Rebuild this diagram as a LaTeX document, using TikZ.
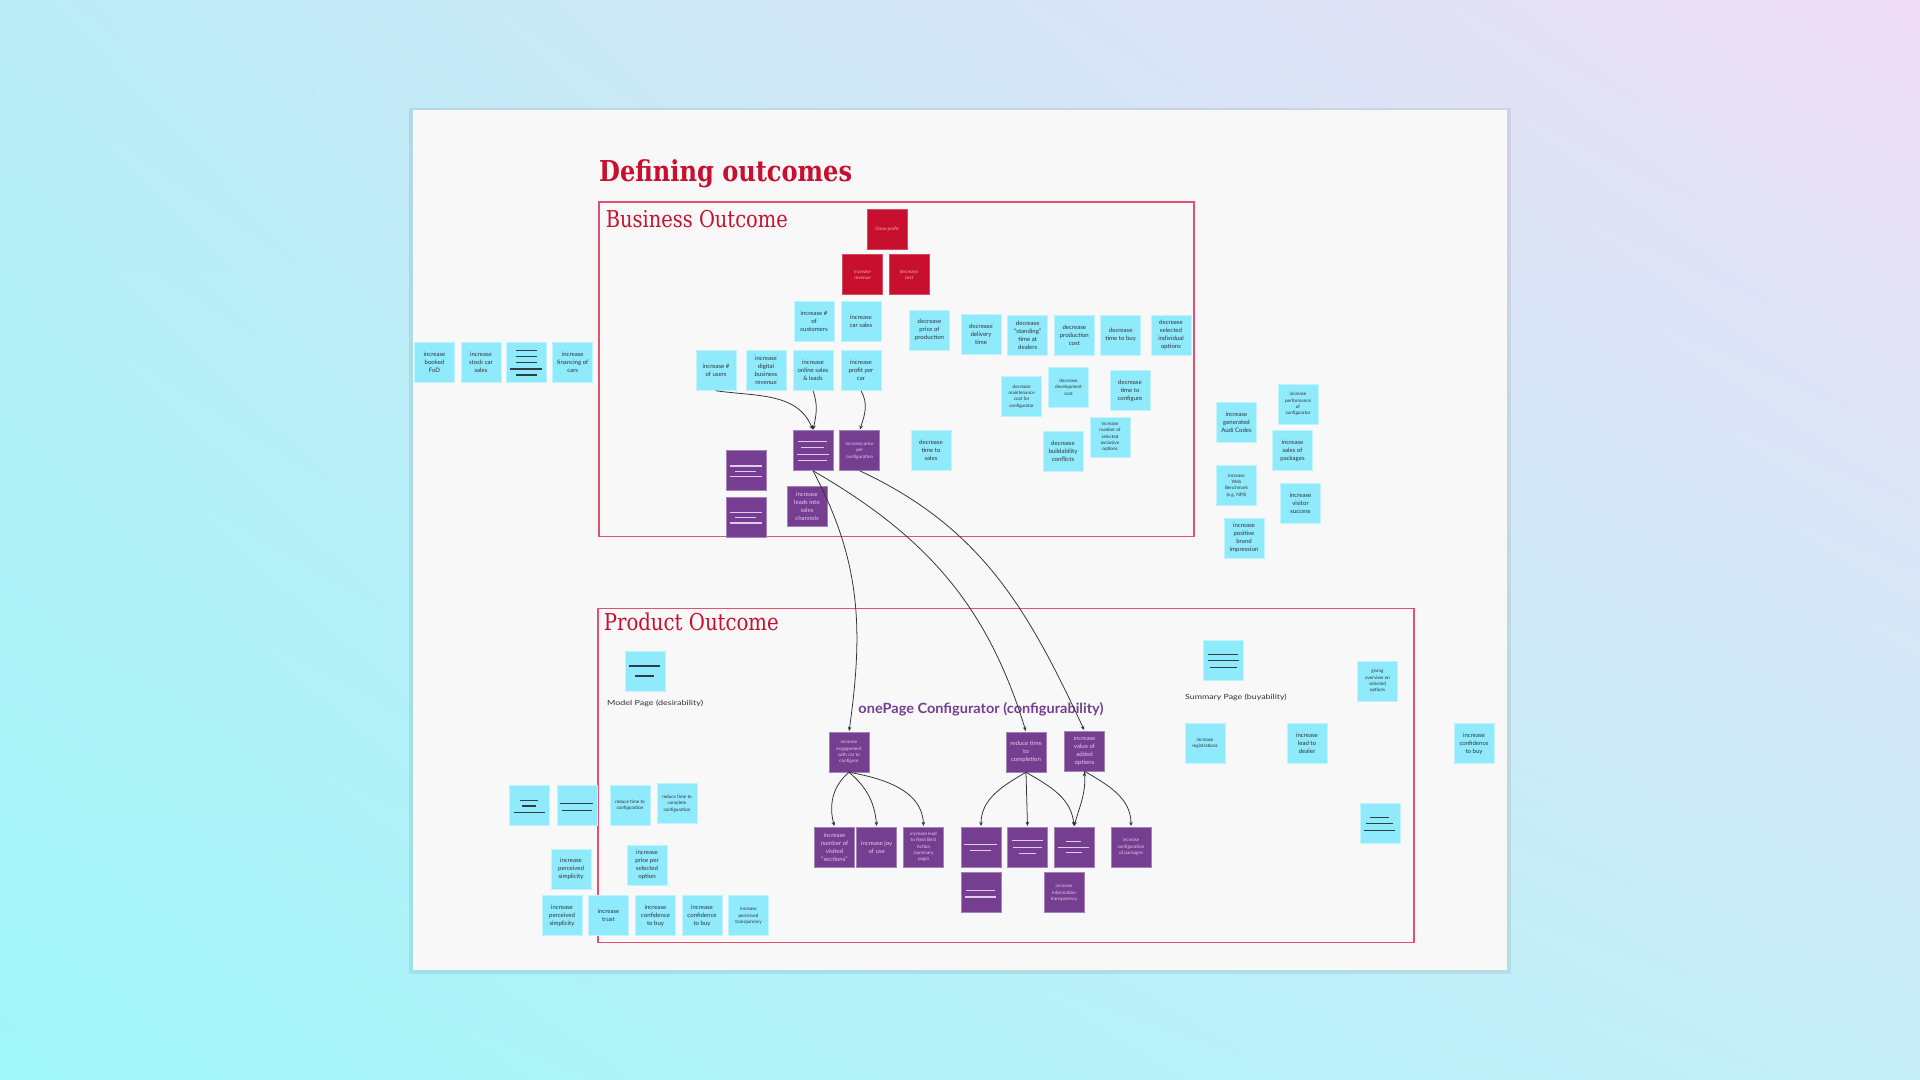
\documentclass[tikz,border=0pt]{standalone}
\usepackage{fontspec}
\setmainfont{Lato}
\newfontfamily\slabfont{DejaVu Serif}
\usetikzlibrary{arrows.meta,positioning,shadings}

\definecolor{sky}{RGB}{143,234,252}
\definecolor{plum}{RGB}{117,62,145}
\definecolor{crimson}{RGB}{200,16,46}
\definecolor{frame}{RGB}{226,82,112}
\definecolor{paper}{RGB}{248,248,248}
\definecolor{ink}{RGB}{50,50,55}
\definecolor{slate}{RGB}{45,62,72}
\definecolor{lilac}{RGB}{226,202,236}
\definecolor{rose}{RGB}{244,172,188}
\definecolor{bgUL}{RGB}{186,236,246}
\definecolor{bgUR}{RGB}{240,222,246}
\definecolor{bgLL}{RGB}{160,246,248}
\definecolor{bgLR}{RGB}{198,238,248}

\newcommand{\notefont}{\fontsize{8.6}{11.3}\selectfont}
\newcommand{\smallnote}{\fontsize{6.6}{9}\selectfont}
\newcommand{\fitw}[2]{\resizebox{#1}{\height}{#2}}
\newcommand{\stripes}[3]{%
  \foreach \w/\dy in {#3}
    \draw[barline,#2] ([shift={(-\w/2,\dy)}]#1.center) -- ++(\w,0);}

\begin{document}
\begin{tikzpicture}[
                x=0.05cm, y=-0.05cm,
                shorten >=1pt,
                >={Stealth[length=6pt,width=5pt]},
                node distance=2.35cm,
                on grid,
                note/.style={minimum width=2cm,minimum height=2cm,inner sep=0pt,
                  align=center,font=\notefont,line width=0.8pt},
                cnote/.style={note,fill=sky,draw=sky!55!white,text=ink},
                pnote/.style={note,fill=plum,draw=plum!65!white,text=lilac},
                rnote/.style={note,fill=crimson,draw=crimson!75!white,text=rose},
                smalltext/.style={font=\smallnote},
                link/.style={->,draw=black!80,line width=1.1pt},
                barline/.style={line width=1.8pt}]
            \useasboundingbox (0,0) rectangle (1920,1080);
            \shade[upper left=bgUL,upper right=bgUR,lower left=bgLL,lower right=bgLR]
              (0,0) rectangle (1920,1080);
            \fill[black,opacity=0.07] (409,108) rectangle (1511,974);
            \fill[paper] (413,110) rectangle (1507,970);

            % titles and frames
            \node[anchor=base west,inner sep=0pt,text=crimson] (title) at (599,181)
              {\fitw{12.65cm}{\fontsize{41}{41}\slabfont\bfseries Defining outcomes}};
            \draw[frame,line width=1.6pt] (599,202) rectangle (1194,536.5);
            \draw[frame,line width=1.6pt] (598,608.5) rectangle (1414,942.5);
            \node[anchor=base west,inner sep=0pt,text=crimson] (business) at (605.7,227.3)
              {\fitw{9.1cm}{\fontsize{33}{33}\slabfont Business Outcome}};
            \node[anchor=base west,inner sep=0pt,text=crimson] (product) at (603.7,630.5)
              {\fitw{8.75cm}{\fontsize{33}{33}\slabfont Product Outcome}};

            % business outcome
            \node[rnote,smalltext] (grow_profit) at (887,229) {Grow profit};
            \node[rnote,smalltext] (inc_revenue) at (862.5,274.5) {increase\\revenue};
            \node[rnote,smalltext] (dec_cost) [right=2.325cm of inc_revenue] {decrease\\cost};

            \node[cnote] (inc_customers) at (814,321) {increase \#\\of\\customers};
            \node[cnote] (inc_car_sales) [right=of inc_customers] {increase\\car sales};
            \node[cnote] (dec_price_prod) at (929.5,330) {decrease\\price of\\production};
            \node[cnote] (dec_delivery) at (981,334) {decrease\\delivery\\time};
            \node[cnote] (dec_standing) at (1027.7,335) {decrease\\``standing''\\time at\\dealers};
            \node[cnote] (dec_prod_cost) at (1074.3,335) {decrease\\production\\cost};
            \node[cnote] (dec_time_buy) at (1120.7,335) {decrease\\time to buy};
            \node[cnote] (dec_sel_options) at (1171,335) {decrease\\selected\\individual\\options};
            \node[cnote] (inc_users) at (716,370.5) {increase \#\\of users};
            \node[cnote] (inc_digital) at (766,370.5) {increase\\digital\\business\\revenue};
            \node[cnote] (inc_online) at (813,370.5) {increase\\online sales\\\& leads};
            \node[cnote] (inc_profit_car) at (861,370.5) {increase\\profit per\\car};
            \node[cnote,smalltext] (dec_maintenance) at (1021.7,396.5) {decrease\\maintenance\\cost for\\configurator};
            \node[cnote,smalltext] (dec_development) at (1068.5,387) {decrease\\development\\cost};
            \node[cnote] (dec_time_conf) at (1130,390.5) {decrease\\time to\\configure};
            \node[cnote] (dec_buildability) at (1063,451.5) {decrease\\buildability\\conflicts};
            \node[cnote,smalltext] (inc_exclusive) at (1110,437) {increase\\number of\\selected\\exclusive\\options};
            \node[cnote] (dec_time_sales) at (931,450.5) {decrease\\time to\\sales};

            \node[pnote] (hub) at (813,450.5) {};
            \node[pnote,smalltext] (inc_price_conf) at (859.7,450.5) {increase price\\per\\configuration};
            \node[pnote] (inc_leads) at (807,506) {increase\\leads into\\sales\\channels};
            \node[pnote] (plum_a) at (746,470.7) {};
            \node[pnote] (plum_b) at (746,517) {};

            \node[cnote] (inc_fod) at (434.5,362) {increase\\booked\\FoD};
            \node[cnote] (inc_stock) at (481,362) {increase\\stock car\\sales};
            \node[cnote] (stock_lines) at (526.5,362) {};
            \node[cnote] (inc_financing) at (572.7,362) {increase\\financing of\\cars};

            \node[cnote,smalltext] (inc_performance) at (1298,404) {increase\\performance\\of\\configurator};
            \node[cnote] (inc_audi_codes) at (1236.5,422) {increase\\generated\\Audi Codes};
            \node[cnote] (inc_packages) at (1292.5,450.5) {increase\\sales of\\packages};
            \node[cnote,smalltext] (inc_benchmark) at (1236.5,485.5) {increase\\Web\\Benchmark\\(e.g. NPS)};
            \node[cnote] (inc_visitor) at (1300.5,503.5) {increase\\visitor\\success};
            \node[cnote] (inc_brand) at (1244,538) {increase\\positive\\brand\\impression};

            % product outcome
            \node[cnote] (model_page) at (645,671) {};
            \node[anchor=base west,inner sep=0pt,text=ink] (model_label) at (607,705.5)
              {\fitw{4.8cm}{\fontsize{10}{12}\selectfont Model Page (desirability)}};
            \node[cnote] (summary_page) at (1223.7,660) {};
            \node[anchor=base west,inner sep=0pt,text=ink] (summary_label) at (1185,699)
              {\fitw{5.08cm}{\fontsize{10}{12}\selectfont Summary Page (buyability)}};
            \node[anchor=base west,inner sep=0pt,text=plum] (configurator) at (858.3,713.5)
              {\fitw{12.25cm}{\fontsize{20}{20}\selectfont\bfseries onePage Configurator (configurability)}};

            \node[cnote,smalltext] (giving_overview) at (1377.5,681) {giving\\overview on\\selected\\options};
            \node[cnote,smalltext] (inc_registrations) at (1205,743.5) {increase\\registrations};
            \node[cnote] (inc_lead_dealer) at (1307,743.5) {increase\\lead to\\dealer};
            \node[cnote] (inc_confidence_out) at (1474,743.5) {increase\\confidence\\to buy};
            \node[cnote] (summary_lines) at (1380,823) {};

            \node[cnote] (left_lines_a) at (529.7,805.5) {};
            \node[cnote] (left_lines_b) at (577,805.5) {};
            \node[cnote,smalltext] (red_time_conf) at (630,805.5) {reduce time to\\configuration};
            \node[cnote,smalltext] (red_time_complete) at (677,803.7) {reduce time to\\complete\\configuration};
            \node[cnote] (inc_simplicity_a) at (571,869) {increase\\perceived\\simplicity};
            \node[cnote] (inc_price_option) at (647,865) {increase\\price per\\selected\\option};
            \node[cnote] (inc_simplicity_b) at (562,915.7) {increase\\perceived\\simplicity};
            \node[cnote] (inc_trust) at (608.5,915.7) {increase\\trust};
            \node[cnote] (inc_confidence_a) at (655.5,915.7) {increase\\confidence\\to buy};
            \node[cnote] (inc_confidence_b) at (702,915.7) {increase\\confidence\\to buy};
            \node[cnote,smalltext] (inc_transparency) at (748.5,915.7) {increase\\perceived\\transparency};

            \node[pnote,smalltext] (inc_engagement) at (849,752) {increase\\engagement\\with car to\\configure};
            \node[pnote] (red_time_completion) at (1026,752) {reduce time\\to\\completion};
            \node[pnote] (inc_value_options) at (1084.5,751) {increase\\value of\\added\\options};
            \node[pnote] (inc_visited) at (834.5,847) {increase\\number of\\visited\\``sections''};
            \node[pnote] (inc_joy) at (876.7,847) {increase joy\\of use};
            \node[pnote,smalltext] (inc_nba) at (923.5,847) {increase lead\\to Next Best\\Action\\(summary\\page)};
            \node[pnote] (plum_p1) at (981,847) {};
            \node[pnote] (plum_p2) at (1027.5,847) {};
            \node[pnote] (plum_p3) at (1074,847) {};
            \node[pnote,smalltext] (inc_conf_packages) at (1131,847) {increase\\configuration\\of packages};
            \node[pnote] (plum_p4) at (981,892.7) {};
            \node[pnote,smalltext] (inc_info_transparency) at (1064,892.7) {increase\\information\\transparency};

            % stripes on the blank notes
            \stripes{stock_lines}{slate}{22/-11.3,22/-5.7,22/0.7,33/7,22/13}
            \stripes{plum_a}{lilac}{33/-4.7,22/0.7,33/6}
            \stripes{plum_b}{lilac}{33/-4.7,22/0.7,33/6}
            \stripes{hub}{lilac}{30/-8.8,24/-2.8,33/3.8,30/9.8}
            \stripes{model_page}{slate}{32/-5,20/5}
            \stripes{summary_page}{slate}{30.7/-5.5,32/0.8,28/7.5}
            \stripes{summary_lines}{slate}{20/-5.8,28/0.5,32/7.2}
            \stripes{left_lines_a}{slate}{18.7/-5.2,14.7/0.5,32/7.2}
            \stripes{left_lines_b}{slate}{34/-2.2,31/4.8}
            \stripes{plum_p1}{lilac}{34/-2.8,22/3.2}
            \stripes{plum_p2}{lilac}{32/-6.2,30/0.2,18/6.8}
            \stripes{plum_p3}{lilac}{16/-5.2,32/0.2,17/5.8}
            \stripes{plum_p4}{lilac}{30/-2,32/4.3}

            \path[link]
            (inc_users.south) edge[out=-8,in=112] (hub.north)
            (inc_online.south) edge[out=-70,in=78] (hub.north)
            (inc_profit_car.south) edge[out=-60,in=72] (inc_price_conf.north)
            (hub.south) edge[out=-62,in=82] (inc_engagement.north)
            edge[out=-30,in=107] (red_time_completion.north)
            (inc_price_conf.south) edge[out=-25,in=115] (inc_value_options.north)
            (inc_engagement.south) edge[out=-140,in=105] (inc_visited.north)
            edge[out=-40,in=95] (inc_joy.north)
            edge[out=-10,in=92] (inc_nba.north)
            (red_time_completion.south) edge[out=-150,in=90] (plum_p1.north)
            edge (plum_p2.north)
            edge[out=-30,in=95] (plum_p3.north)
            (inc_value_options.south) edge[out=-85,in=75] (plum_p3.north)
            edge[out=-30,in=90] (inc_conf_packages.north)
            ;
        \end{tikzpicture}
\end{document}
